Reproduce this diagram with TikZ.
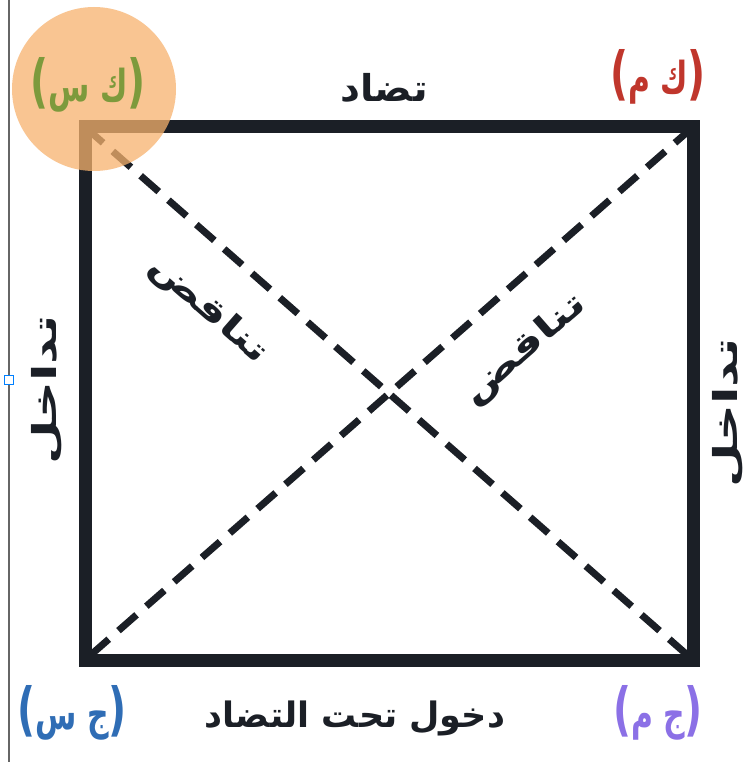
\documentclass[tikz,border=0pt]{standalone}
\usepackage{fontspec}
\usepackage{graphicx}
\TeXXeTstate=1
\newfontfamily\arabicfont[Script=Arabic]{DejaVu Sans}
\newfontfamily\parfont{DejaVu Sans}
\definecolor{framec}{HTML}{1B1F26}
\definecolor{ksgreen}{HTML}{7D9A3C}
\definecolor{kmred}{HTML}{C0362C}
\definecolor{jsblue}{HTML}{2F6DB5}
\definecolor{jmpurple}{HTML}{8B70E6}
\definecolor{circorange}{HTML}{F7B26E}
\newcommand{\parL}{{\parfont\fontsize{58}{60}\selectfont (}}
\newcommand{\parR}{{\parfont\fontsize{58}{60}\selectfont )}}
\tikzset{
  ar/.style={font=\arabicfont\bfseries\fontsize{37}{40}\selectfont, text=framec, inner sep=0pt},
  arside/.style={font=\arabicfont\bfseries\fontsize{33}{36}\selectfont, text=framec, inner sep=0pt},
  corner/.style={font=\arabicfont\bfseries\fontsize{44}{46}\selectfont, inner sep=0pt},
  framebox/.style={line width=13pt, draw=framec, line join=miter},
  diag/.style={line width=7pt, draw=framec, dash pattern=on 24pt off 13pt}
}
\begin{document}
\begin{tikzpicture}[x=1pt,y=-1pt]
\useasboundingbox[fill=white] (0,0) rectangle (748,762);
% screenshot guide line
\draw[line width=1.2pt, draw=gray!80!black] (9,0) -- (9,762);
\node[draw=blue!50!cyan, fill=white, line width=1pt, minimum size=9pt, inner sep=0pt] (handle) at (9,380) {};
% frame corners
\coordinate (TL) at (85,127);
\coordinate (TR) at (693,127);
\coordinate (BR) at (693,660);
\coordinate (BL) at (85,660);
\draw[diag] (TL) -- (BR);
\draw[diag] (TR) -- (BL);
\draw[framebox] (TL) -- (TR) -- (BR) -- (BL) -- cycle;
% highlight
\fill[circorange, opacity=0.75] (94,89) circle (82);
% corner labels
\node[corner, text=ksgreen] (ks) at (88,85) {\scalebox{0.68}[1]{\parL\beginR ك س\endR\parR}};
\node[corner, text=kmred] (km) at (658,77) {\scalebox{0.68}[1]{\parL\beginR ك م\endR\parR}};
\node[corner, text=jsblue] (js) at (72,713) {\scalebox{0.68}[1]{\parL\beginR ج س\endR\parR}};
\node[corner, text=jmpurple] (jm) at (658,713) {\scalebox{0.68}[1]{\parL\beginR ج م\endR\parR}};
% relation labels
\node[ar] (top) at (384,88) {\scalebox{1.05}[1]{\beginR تضاد\endR}};
\node[ar, font=\arabicfont\bfseries\fontsize{35}{38}\selectfont] (bottom) at (355,718) {\beginR دخول تحت التضاد\endR};
\node[arside, rotate=90] (left) at (47,390) {\scalebox{1.55}[1]{\beginR تداخل\endR}};
\node[arside, rotate=90] (right) at (728,413) {\scalebox{1.55}[1]{\beginR تداخل\endR}};
\node[arside, rotate=-41.2] (d1) at (208,310) {\scalebox{1.4}[1]{\beginR تناقض\endR}};
\node[arside, rotate=41.2] (d2) at (525,350) {\scalebox{1.45}[1]{\beginR تناقض\endR}};
\end{tikzpicture}
\end{document}
